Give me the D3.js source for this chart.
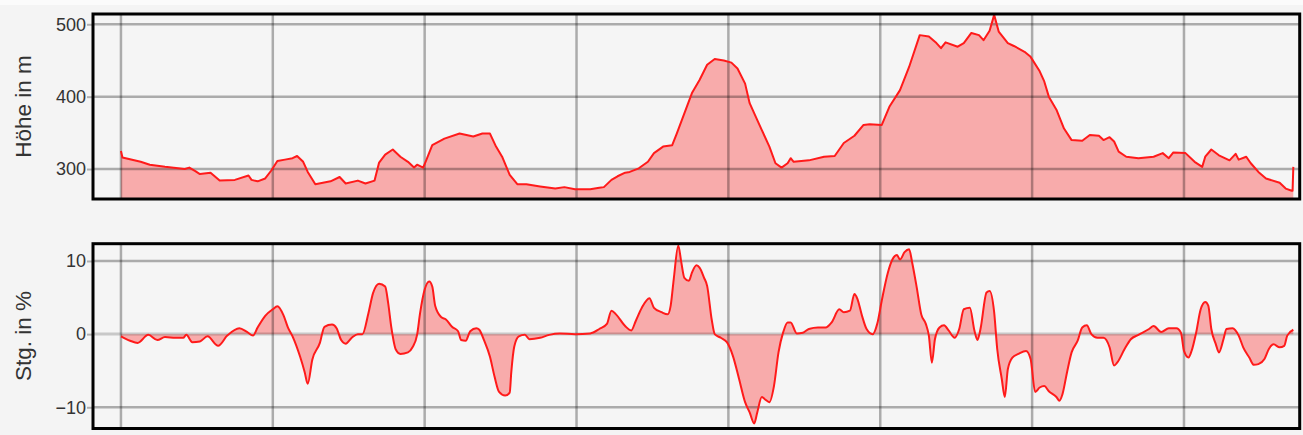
<!DOCTYPE html>
<html>
<head>
<meta charset="utf-8">
<script src="https://cdn.jsdelivr.net/npm/d3@7"></script>
<style>
  html, body { margin: 0; padding: 0; background: #f4f4f4; }
  svg { display: block; }
  text { font-family: "Liberation Sans", Arial, sans-serif; fill: #333; }
</style>
</head>
<body>
<svg id="chart" width="1303" height="435"></svg>
<script>
// ---- data ----
const elevKm = [0.00,0.01,0.13,0.19,0.29,0.42,0.45,0.49,0.52,0.59,0.65,0.75,0.84,0.86,0.90,0.95,0.99,1.03,1.08,1.13,1.16,1.20,1.23,1.28,1.38,1.44,1.48,1.56,1.61,1.67,1.70,1.74,1.79,1.84,1.89,1.93,1.95,1.99,2.01,2.05,2.13,2.23,2.32,2.38,2.43,2.47,2.51,2.56,2.61,2.67,2.76,2.86,2.92,2.99,3.09,3.15,3.18,3.23,3.27,3.32,3.35,3.41,3.47,3.51,3.57,3.63,3.66,3.71,3.76,3.81,3.86,3.91,3.97,4.02,4.06,4.11,4.14,4.20,4.27,4.31,4.35,4.39,4.41,4.43,4.53,4.63,4.70,4.76,4.83,4.89,4.93,5.01,5.06,5.13,5.19,5.26,5.32,5.37,5.40,5.43,5.51,5.55,5.60,5.65,5.68,5.72,5.75,5.78,5.84,5.88,5.95,5.99,6.05,6.08,6.11,6.16,6.21,6.26,6.33,6.38,6.44,6.47,6.51,6.54,6.57,6.62,6.70,6.80,6.86,6.90,6.93,7.01,7.07,7.12,7.14,7.18,7.23,7.30,7.34,7.36,7.41,7.44,7.49,7.54,7.63,7.67,7.71,7.715,7.72];
const elevM = [325,316,310,306,303,300,302,297,293,295,284,285,291,285,283,287,298,311,313,315,318,310,296,279,283,289,280,284,280,284,309,320,327,317,310,302,306,302,312,333,342,349,345,349,349,331,317,292,279,279,276,273,275,272,272,274,275,285,290,295,296,301,310,322,331,333,349,377,405,423,444,452,450,447,439,418,391,363,331,308,302,308,315,310,312,317,318,336,346,361,362,361,386,409,441,485,483,474,467,475,469,474,488,485,478,491,513,490,474,470,462,455,435,421,400,382,356,340,339,347,346,340,344,338,324,317,315,317,322,315,323,322,310,303,317,327,319,312,321,313,317,308,296,287,281,273,270,270,303];

const slopeKm = [0.00,0.06,0.11,0.18,0.24,0.29,0.36,0.41,0.43,0.47,0.52,0.57,0.64,0.70,0.78,0.83,0.87,0.90,0.95,1.00,1.03,1.07,1.10,1.13,1.18,1.21,1.23,1.26,1.31,1.34,1.39,1.42,1.45,1.48,1.52,1.56,1.59,1.63,1.66,1.70,1.74,1.76,1.78,1.81,1.84,1.89,1.92,1.95,1.97,2.00,2.03,2.05,2.07,2.11,2.14,2.18,2.22,2.24,2.27,2.30,2.34,2.36,2.39,2.43,2.46,2.49,2.53,2.56,2.57,2.59,2.62,2.66,2.69,2.76,2.82,2.89,2.99,3.09,3.15,3.20,3.23,3.26,3.32,3.36,3.39,3.43,3.48,3.51,3.56,3.60,3.62,3.64,3.67,3.69,3.71,3.74,3.76,3.79,3.81,3.84,3.86,3.89,3.91,3.95,3.99,4.03,4.07,4.11,4.14,4.17,4.19,4.22,4.24,4.27,4.30,4.33,4.36,4.39,4.41,4.45,4.49,4.53,4.59,4.64,4.68,4.73,4.76,4.80,4.83,4.85,4.88,4.91,4.95,4.98,5.01,5.05,5.08,5.11,5.13,5.16,5.19,5.21,5.24,5.27,5.30,5.32,5.34,5.36,5.39,5.42,5.45,5.49,5.52,5.55,5.59,5.62,5.64,5.66,5.70,5.72,5.75,5.77,5.80,5.82,5.84,5.87,5.91,5.96,5.99,6.02,6.05,6.08,6.11,6.16,6.18,6.20,6.23,6.26,6.30,6.33,6.36,6.39,6.43,6.47,6.51,6.54,6.56,6.61,6.65,6.70,6.77,6.80,6.85,6.90,6.95,6.98,7.00,7.03,7.05,7.08,7.11,7.14,7.16,7.18,7.21,7.23,7.26,7.28,7.32,7.36,7.39,7.43,7.46,7.49,7.53,7.56,7.59,7.63,7.66,7.68,7.72];
const slopePct = [-0.3,-0.9,-1.2,-0.1,-0.8,-0.4,-0.5,-0.5,-0.1,-1.1,-1.0,-0.3,-1.6,-0.2,0.8,0.3,-0.2,0.9,2.5,3.4,3.8,2.6,0.9,-0.3,-3.1,-5.2,-6.8,-3.5,-1.2,1.0,1.3,0.8,-0.8,-1.3,-0.5,0,0,2.9,5.6,6.9,6.5,4.2,1.0,-2.1,-2.7,-2.5,-1.8,-0.1,2.9,6.1,7.2,6.5,3.8,2.3,2.0,1.0,0.4,-0.8,-0.9,0.4,0.8,0.6,-0.8,-3.1,-5.8,-7.9,-8.4,-8.0,-5.3,-1.7,-0.3,-0.1,-0.7,-0.5,-0.1,0.1,0,0.1,0.7,1.4,3.2,2.7,1.1,0.5,1.8,3.6,4.9,3.6,3.0,2.7,3.9,7.5,12.1,9.8,7.7,7.3,8.4,9.4,9.1,7.7,6.6,2.0,0,-0.5,-1.1,-3.0,-6.1,-9.3,-10.7,-12.2,-10.7,-8.6,-8.9,-9.3,-7.1,-2.5,0.2,1.6,1.6,0.1,0.2,0.7,0.9,0.9,1.6,3.4,3.0,3.2,5.5,4.8,2.5,0.7,0,1.4,4.6,8.4,10.2,10.8,10.2,11.2,11.6,9.8,6.4,2.7,1.4,-0.2,-3.9,-0.7,0.9,1.2,0.5,-0.5,0.7,3.4,3.6,0.5,-0.8,0.7,5.7,5.9,3.0,-2.0,-6.1,-8.6,-4.8,-3.2,-2.7,-2.3,-3.4,-7.9,-7.3,-7.1,-7.8,-8.6,-9.1,-8.2,-5.2,-2.5,-0.9,0.9,1.2,0,-0.5,-0.5,-1.8,-4.3,-3.9,-2.0,-0.7,-0.1,0.7,1.1,0.3,0.8,0.8,0.2,-2.3,-3.2,-2.3,0.2,3.4,4.4,3.9,0.7,-1.4,-2.5,-0.7,0.7,0.8,-0.2,-1.8,-3.2,-4.2,-4.1,-3.4,-2.0,-1.4,-1.8,-1.6,-0.2,0.6];

const gridKm = [0,1,2,3,4,5,6,7];
const elevTicks = [300,400,500];
const slopeTicks = [-10,0,10];
const elevTitle = "Höhe in m";
const slopeTitle = "Stg. in %";

// ---- layout ----
const svg = d3.select("#chart");
svg.append("rect").attr("x",0).attr("y",0).attr("width",1303).attr("height",5).attr("fill","#fbfbfb");

const left = 93, right = 1299.7;
const x = d3.scaleLinear().domain([-0.184, 7.762]).range([left, right]);

const panels = [
  { top: 14, bottom: 199, domain: [258.6, 514.2], xs: elevKm, ys: elevM, ticks: elevTicks, title: elevTitle, base: "bottom", zeroLine: false },
  { top: 243.7, bottom: 428.5, domain: [-12.9, 12.36], xs: slopeKm, ys: slopePct, ticks: slopeTicks, title: slopeTitle, base: "zero", zeroLine: true }
];

panels.forEach((p, i) => {
  const y = d3.scaleLinear().domain(p.domain).range([p.bottom, p.top]);
  const g = svg.append("g");
  const clipId = "clip" + i;
  svg.append("clipPath").attr("id", clipId)
    .append("rect").attr("x", left).attr("y", p.top).attr("width", right - left).attr("height", p.bottom - p.top);

  g.append("rect").attr("x", left).attr("y", p.top).attr("width", right-left).attr("height", p.bottom-p.top).attr("fill", "#f5f5f5");

  const pts = p.xs.map((d, k) => [d, p.ys[k]]);
  const y0 = p.base === "bottom" ? p.bottom : y(0);
  const curve = i === 0 ? d3.curveLinear : d3.curveMonotoneX;
  const area = d3.area().x(d => x(d[0])).y0(y0).y1(d => y(d[1])).curve(curve);
  const line = d3.line().x(d => x(d[0])).y(d => y(d[1])).curve(curve);

  const inner = g.append("g").attr("clip-path", `url(#${clipId})`);
  inner.append("path").datum(pts).attr("d", area).attr("fill", "rgba(255,0,0,0.3)");

  inner.selectAll(".vg").data(gridKm).enter().append("line")
    .attr("x1", d => x(d)).attr("x2", d => x(d)).attr("y1", p.top).attr("y2", p.bottom)
    .attr("stroke", "rgba(0,0,0,0.3)").attr("stroke-width", 2.5);
  inner.selectAll(".hg").data(p.ticks).enter().append("line")
    .attr("x1", left).attr("x2", right).attr("y1", d => y(d)).attr("y2", d => y(d))
    .attr("stroke", d => (p.zeroLine && d === 0) ? "rgba(0,0,0,0.18)" : "rgba(0,0,0,0.3)")
    .attr("stroke-width", d => (p.zeroLine && d === 0) ? 3 : 2.5);

  inner.append("path").datum(pts).attr("d", line).attr("fill", "none")
    .attr("stroke", "#ff1a1a").attr("stroke-width", 2).attr("stroke-linejoin", "round");

  const axis = d3.axisLeft(y).tickValues(p.ticks).tickSize(5).tickPadding(1).tickFormat(d3.format("d"));
  const ag = g.append("g").attr("transform", `translate(${left - 1},0)`).call(axis);
  ag.select(".domain").remove();
  ag.selectAll(".tick line").attr("stroke", "rgba(0,0,0,0.28)").attr("stroke-width", 2);
  ag.selectAll(".tick text").attr("font-size", "18px").attr("fill", "#333")
    .attr("font-family", "'Liberation Sans', Arial, sans-serif");

  g.append("rect").attr("x", left).attr("y", p.top).attr("width", right-left).attr("height", p.bottom-p.top)
    .attr("fill", "none").attr("stroke", "#000").attr("stroke-width", 3);

  const cy = (p.top + p.bottom) / 2;
  g.append("text").attr("transform", `translate(31,${cy}) rotate(-90)`)
    .attr("text-anchor", "middle").attr("font-size", "22.5px").attr("fill", "#333")
    .text(p.title);
});
</script>
</body>
</html>
